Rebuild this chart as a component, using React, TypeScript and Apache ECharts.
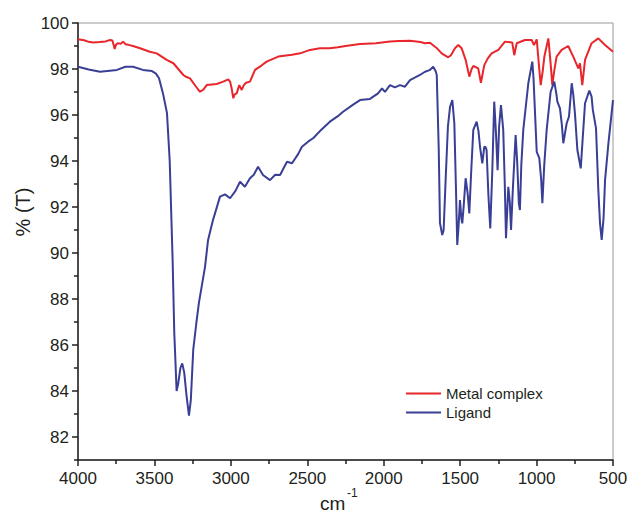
import React, { useEffect, useRef } from "react";
import * as echarts from "echarts";

// Wavenumbers (cm-1) and transmittance (%)
const metalWavenumbers = [
  4000, 3960, 3930, 3900, 3860, 3820, 3790, 3775, 3765, 3760, 3752, 3740, 3720, 3705, 3690, 3670, 3640, 3594,
  3530, 3485, 3420, 3376, 3311, 3290, 3267, 3230, 3202, 3180, 3158, 3093, 3050, 3017, 3005, 2995, 2984, 2975,
  2962, 2945, 2929, 2915, 2901, 2875, 2842, 2800, 2766, 2690, 2600, 2547, 2482, 2417, 2352, 2300, 2250, 2155,
  2050, 1959, 1900, 1828, 1760, 1730, 1697, 1665, 1651, 1621, 1578, 1560, 1534, 1512, 1490, 1464, 1440, 1425,
  1414, 1382, 1364, 1342, 1320, 1294, 1250, 1207, 1159, 1146, 1130, 1076, 1032, 1017, 999, 985, 973, 960, 949,
  923, 910, 897, 885, 869, 836, 793, 760, 727, 716, 701, 683, 640, 596, 552, 500,
];
const metalValues = [
  99.29, 99.25, 99.18, 99.15, 99.17, 99.2, 99.26, 99.24, 99.0, 98.87, 99.05, 99.12, 99.1, 99.19, 99.08, 99.05, 99.0, 98.9,
  98.75, 98.68, 98.4, 98.25, 97.74, 97.65, 97.59, 97.25, 97.01, 97.1, 97.3, 97.35, 97.45, 97.55, 97.45, 97.16, 96.73, 96.9,
  96.94, 97.3, 97.09, 97.3, 97.4, 97.45, 97.96, 98.15, 98.32, 98.54, 98.62, 98.68, 98.83, 98.9, 98.9, 98.95, 99.0, 99.09,
  99.12, 99.2, 99.22, 99.23, 99.17, 99.12, 99.14, 98.97, 98.9, 98.68, 98.51, 98.6, 98.9, 99.04, 98.9, 98.4, 97.67, 98.0,
  98.13, 98.03, 97.4, 98.17, 98.45, 98.68, 98.83, 99.19, 99.15, 98.6, 99.12, 99.26, 99.26, 99.04, 99.29, 98.2, 97.3, 97.9, 98.54,
  99.33, 98.4, 97.3, 97.9, 98.54, 98.83, 99.0, 98.54, 98.03, 98.25, 97.3, 98.4, 99.12, 99.33, 99.04, 98.75,
];

const ligandWavenumbers = [
  4000, 3930, 3856, 3745, 3690, 3640, 3575, 3516, 3490, 3470, 3444, 3418, 3400, 3381, 3370, 3362, 3355, 3345,
  3330, 3318, 3305, 3290, 3274, 3262, 3246, 3225, 3209, 3169, 3149, 3117, 3071, 3038, 3005, 2970, 2940, 2908,
  2875, 2850, 2822, 2790, 2744, 2710, 2678, 2633, 2600, 2560, 2535, 2495, 2460, 2417, 2352, 2300, 2266, 2200,
  2155, 2090, 2037, 2011, 1992, 1959, 1927, 1894, 1861, 1828, 1763, 1730, 1700, 1676, 1660, 1653, 1640, 1632,
  1617, 1608, 1595, 1580, 1566, 1551, 1538, 1528, 1519, 1510, 1501, 1492, 1486, 1475, 1464, 1451, 1440, 1428,
  1414, 1392, 1380, 1370, 1355, 1342, 1333, 1327, 1315, 1303, 1290, 1277, 1266, 1255, 1245, 1233, 1218, 1208,
  1200, 1185, 1175, 1167, 1155, 1137, 1127, 1116, 1109, 1100, 1087, 1054, 1028, 1020, 1010, 999, 982, 970, 962,
  950, 934, 908, 884, 870, 864, 847, 835, 825, 803, 788, 770, 760, 749, 733, 711, 700, 683, 655, 640, 632, 611,
  596, 585, 574, 562, 552, 530, 500,
];
const ligandValues = [
  98.1, 97.98, 97.88, 97.96, 98.1, 98.1, 97.96, 97.91, 97.8, 97.6, 96.94, 96.09, 94.0, 89.7, 86.5, 85.2, 84.0, 84.3,
  85.0, 85.2, 84.8, 83.8, 82.93, 83.6, 85.8, 87.0, 87.83, 89.4, 90.57, 91.43, 92.45, 92.55, 92.38, 92.7, 93.1, 92.88,
  93.25, 93.4, 93.75, 93.39, 93.17, 93.4, 93.39, 93.97, 93.9, 94.3, 94.62, 94.84, 95.0, 95.3, 95.71, 95.95, 96.14, 96.45,
  96.65, 96.7, 96.94, 97.16, 97.0, 97.3, 97.2, 97.3, 97.23, 97.52, 97.74, 97.88, 97.95, 98.1, 97.9, 97.74, 94.5, 91.3,
  90.78, 91.0, 93.17, 95.5, 96.36, 96.65, 95.64, 93.0, 90.35, 91.2, 92.3, 91.5, 91.29, 92.2, 93.25, 92.59, 91.72, 93.5,
  95.35, 95.71, 95.3, 94.62, 93.9, 94.62, 94.6, 94.48, 92.5, 91.07, 93.5, 96.58, 95.27, 93.6, 95.5, 96.43, 95.35, 93.0,
  90.64, 92.88, 92.2, 91.0, 92.8, 95.13, 94.0, 92.16, 91.87, 93.8, 95.35, 97.38, 98.32, 97.6, 96.07, 94.4, 94.12, 93.2, 92.16,
  93.8, 95.35, 97.01, 97.45, 96.9, 96.58, 96.29, 95.6, 94.77, 95.64, 95.93, 97.38, 96.9, 96.07, 94.48, 93.68, 94.8, 96.51, 97.06, 96.8, 96.22, 95.42,
  92.74, 91.3, 90.57, 91.5, 93.17, 94.77, 96.65,
];

const seriesNames = ["Metal complex", "Ligand"];
const yMajorTicks = [82, 84, 86, 88, 90, 92, 94, 96, 98, 100];
const yMinorTicks = [81, 83, 85, 87, 89, 91, 93, 95, 97, 99];

const zip = (xs: number[], ys: number[]) => xs.map((x, i) => [x, ys[i]]);

const FONT = "Arial, 'Liberation Sans', sans-serif";
const TEXT = "#231f20";

export default function App() {
  const ref = useRef<HTMLDivElement>(null);
  useEffect(() => {
    if (!ref.current) return;
    const chart = echarts.init(ref.current, null, { renderer: "svg" });
    chart.setOption({
      animation: false,
      backgroundColor: "#ffffff",
      grid: {
        left: 78,
        right: 18,
        top: 23,
        bottom: 57,
        show: true,
        borderColor: "#9a9a9a",
        borderWidth: 1,
        backgroundColor: "transparent",
      },
      legend: {
        orient: "vertical",
        left: 401,
        top: 381,
        icon: "rect",
        itemWidth: 35,
        itemHeight: 2,
        itemGap: 4,
        data: seriesNames,
        textStyle: { fontSize: 15, color: TEXT, fontFamily: FONT },
      },
      xAxis: {
        type: "value",
        min: 500,
        max: 4000,
        interval: 500,
        inverse: true,
        axisLine: { show: true, lineStyle: { color: "#231f20", width: 1.5 } },
        axisTick: { show: true, length: 6, lineStyle: { color: "#231f20", width: 1.5 } },
        minorTick: { show: true, splitNumber: 2, length: 4, lineStyle: { color: "#231f20", width: 1.5 } },
        axisLabel: { fontSize: 17, color: TEXT, fontFamily: FONT, margin: 10, formatter: (v: number) => String(v) },
        splitLine: { show: false },
        minorSplitLine: { show: false },
      },
      yAxis: [
        {
          type: "value",
          min: 81,
          max: 100,
          position: "left",
          axisLine: { show: true, lineStyle: { color: "#231f20", width: 1.5 } },
          axisTick: { show: true, length: 6, customValues: yMajorTicks, lineStyle: { color: "#231f20", width: 1.5 } },
          axisLabel: { fontSize: 17, color: TEXT, fontFamily: FONT, margin: 9, customValues: yMajorTicks },
          splitLine: { show: false },
        },
        {
          type: "value",
          min: 81,
          max: 100,
          position: "left",
          axisLine: { show: false },
          axisTick: { show: true, length: 4, customValues: yMinorTicks, lineStyle: { color: "#231f20", width: 1.5 } },
          axisLabel: { show: false },
          splitLine: { show: false },
        },
      ],
      series: [
        {
          name: seriesNames[0],
          type: "line",
          data: zip(metalWavenumbers, metalValues),
          symbol: "none",
          lineStyle: { color: "#e8262b", width: 2 },
          itemStyle: { color: "#e8262b" },
        },
        {
          name: seriesNames[1],
          type: "line",
          data: zip(ligandWavenumbers, ligandValues),
          symbol: "none",
          lineStyle: { color: "#393f95", width: 2 },
          itemStyle: { color: "#393f95" },
        },
      ],
      graphic: [
        {
          type: "text",
          x: 23,
          y: 212,
          rotation: Math.PI / 2,
          style: { text: "% (T)", fontSize: 20, fill: TEXT, fontFamily: FONT, align: "center", verticalAlign: "middle" },
        },
        {
          type: "text",
          x: 320,
          y: 494,
          style: { text: "cm", fontSize: 19, fill: TEXT, fontFamily: FONT, align: "left", verticalAlign: "top" },
        },
        {
          type: "text",
          x: 347,
          y: 487,
          style: { text: "-1", fontSize: 12, fill: TEXT, fontFamily: FONT, align: "left", verticalAlign: "top" },
        },
      ],
    });
    return () => chart.dispose();
  }, []);
  return <div ref={ref} style={{ position: "fixed", left: 0, top: 0, width: 631, height: 517 }} />;
}
